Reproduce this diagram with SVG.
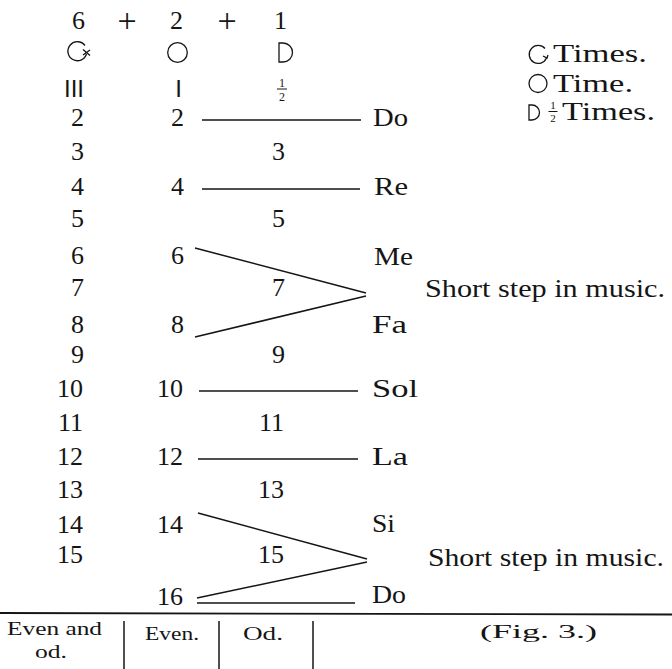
<svg xmlns="http://www.w3.org/2000/svg" width="672" height="669" viewBox="0 0 672 669">
<style>
text { font-family: "Liberation Serif", "DejaVu Serif", serif; font-size: 26px; fill: #151515; }
.e { text-anchor: end; }
.m { text-anchor: middle; }
.sm { font-size: 19px; }
.fr { font-size: 11px; text-anchor: middle; }
.bar { font-family: "Liberation Sans", sans-serif; font-size: 24px; }
.ln { stroke: #151515; stroke-width: 1.5; fill: none; }
.sym { stroke: #151515; stroke-width: 1.3; fill: none; }
</style>
<rect width="672" height="669" fill="#fff"/>

<g id="header">
  <text class="e" x="85" y="29">6</text>
  <text class="m" x="127" y="32" style="font-size:34px">+</text>
  <text class="e" x="183" y="29">2</text>
  <text class="m" x="227" y="32" style="font-size:34px">+</text>
  <text class="e" x="287" y="29">1</text>
</g>

<g id="symbols">
  <path class="sym" d="M 85 45.5 A 9.5 9.5 0 1 0 86.5 54"/>
  <path class="sym" d="M 83 49.5 L 90 55.5 M 83 55 L 90 50"/>
  <circle class="sym" cx="177.5" cy="52.5" r="9.8"/>
  <path class="sym" d="M 279 43 L 283 43 A 9.5 9.5 0 0 1 283 62 L 279 62 Z"/>
</g>

<g id="strokes">
  <text class="bar" x="64" y="97">III</text>
  <text class="bar m" x="178.5" y="97">I</text>
  <text class="fr" x="282" y="86.5" style="font-size:12px">1</text>
  <line x1="277" y1="89" x2="287" y2="89" stroke="#151515" stroke-width="1"/>
  <text class="fr" x="282" y="100.5" style="font-size:12px">2</text>
</g>

<g id="legend">
  <path class="sym" d="M 545 48.5 A 9 9 0 1 0 546.5 58"/>
  <path class="sym" d="M 543 56 L 547 58 L 548 55"/>
  <text x="553" y="62" textLength="94" lengthAdjust="spacingAndGlyphs">Times.</text>
  <circle class="sym" cx="538" cy="83.5" r="9"/>
  <text x="553" y="92" textLength="80" lengthAdjust="spacingAndGlyphs">Time.</text>
  <path class="sym" d="M 529 105 L 532 105 A 7.5 7.5 0 0 1 532 120 L 529 120 Z"/>
  <text class="fr" x="553" y="109">1</text>
  <line x1="548.5" y1="111.5" x2="557.5" y2="111.5" stroke="#151515" stroke-width="1"/>
  <text class="fr" x="553" y="122">2</text>
  <text x="562" y="120" textLength="93" lengthAdjust="spacingAndGlyphs">Times.</text>
</g>

<g id="col-even-and-odd">
  <text class="e" x="84" y="126">2</text>
  <text class="e" x="84" y="160">3</text>
  <text class="e" x="84" y="195">4</text>
  <text class="e" x="84" y="227">5</text>
  <text class="e" x="84" y="264">6</text>
  <text class="e" x="84" y="296">7</text>
  <text class="e" x="84" y="333">8</text>
  <text class="e" x="84" y="363">9</text>
  <text class="e" x="83" y="397">10</text>
  <text class="e" x="83" y="431">11</text>
  <text class="e" x="83" y="465">12</text>
  <text class="e" x="83" y="498">13</text>
  <text class="e" x="83" y="533">14</text>
  <text class="e" x="83" y="563">15</text>
</g>

<g id="col-even">
  <text class="e" x="184" y="126">2</text>
  <text class="e" x="184" y="195">4</text>
  <text class="e" x="184" y="264">6</text>
  <text class="e" x="184" y="333">8</text>
  <text class="e" x="183" y="397">10</text>
  <text class="e" x="183" y="465">12</text>
  <text class="e" x="183" y="533">14</text>
  <text class="e" x="183" y="605">16</text>
</g>

<g id="col-odd">
  <text class="e" x="285" y="160">3</text>
  <text class="e" x="285" y="227">5</text>
  <text class="e" x="285" y="296">7</text>
  <text class="e" x="285" y="363">9</text>
  <text class="e" x="284" y="431">11</text>
  <text class="e" x="284" y="498">13</text>
  <text class="e" x="284" y="563">15</text>
</g>

<g id="notes">
  <text x="373" y="126" textLength="35" lengthAdjust="spacingAndGlyphs">Do</text>
  <text x="374" y="195" textLength="34" lengthAdjust="spacingAndGlyphs">Re</text>
  <text x="374" y="265" textLength="39" lengthAdjust="spacingAndGlyphs">Me</text>
  <text x="372" y="333" textLength="35" lengthAdjust="spacingAndGlyphs">Fa</text>
  <text x="372" y="397" textLength="46" lengthAdjust="spacingAndGlyphs">Sol</text>
  <text x="372" y="465" textLength="36" lengthAdjust="spacingAndGlyphs">La</text>
  <text x="372" y="532" textLength="23" lengthAdjust="spacingAndGlyphs">Si</text>
  <text x="372" y="603" textLength="34" lengthAdjust="spacingAndGlyphs">Do</text>
</g>

<g id="remarks">
  <text x="425" y="297" textLength="240" lengthAdjust="spacingAndGlyphs">Short step in music.</text>
  <text x="428" y="566" textLength="236" lengthAdjust="spacingAndGlyphs">Short step in music.</text>
</g>

<g id="connectors">
  <line class="ln" x1="202" y1="120" x2="361" y2="120"/>
  <line class="ln" x1="202" y1="189" x2="360" y2="189"/>
  <line class="ln" x1="195" y1="248" x2="366" y2="293"/>
  <line class="ln" x1="366" y1="296" x2="195" y2="337"/>
  <line class="ln" x1="199" y1="391" x2="358" y2="391"/>
  <line class="ln" x1="198" y1="459" x2="358" y2="459"/>
  <line class="ln" x1="198" y1="513" x2="367" y2="559"/>
  <line class="ln" x1="367" y1="562" x2="197" y2="598"/>
  <line class="ln" x1="197" y1="603" x2="355" y2="603"/>
</g>

<g id="table">
  <line x1="0" y1="613" x2="672" y2="614.5" stroke="#151515" stroke-width="1.8"/>
  <line class="ln" x1="124" y1="621" x2="124" y2="669" stroke-width="1.2"/>
  <line class="ln" x1="219" y1="621" x2="219" y2="669" stroke-width="1.2"/>
  <line class="ln" x1="313" y1="621" x2="313" y2="669" stroke-width="1.2"/>
  <text class="sm" x="7" y="635" textLength="95" lengthAdjust="spacingAndGlyphs">Even and</text>
  <text class="sm" x="35" y="658" textLength="32" lengthAdjust="spacingAndGlyphs">od.</text>
  <text class="sm" x="145" y="640" textLength="54" lengthAdjust="spacingAndGlyphs">Even.</text>
  <text class="sm" x="243" y="640" textLength="40" lengthAdjust="spacingAndGlyphs">Od.</text>
  <text class="sm" x="480" y="638" textLength="117" lengthAdjust="spacingAndGlyphs">(Fig. 3.)</text>
</g>
</svg>
